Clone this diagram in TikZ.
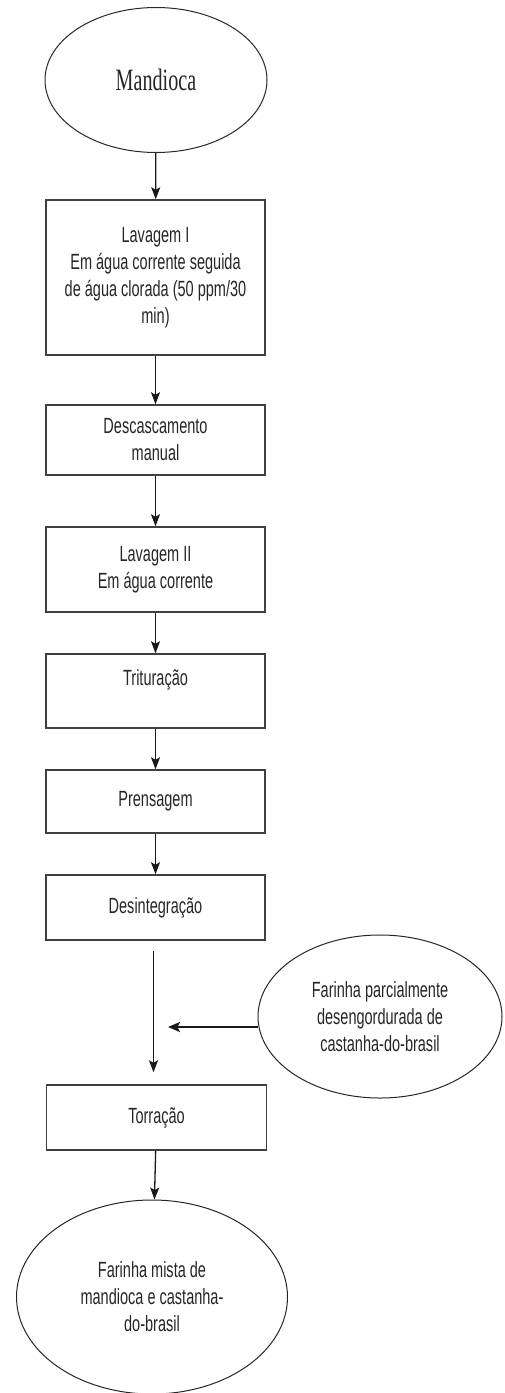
\documentclass[tikz,border=0pt]{standalone}
\usepackage{fontspec}
\setmainfont[FakeStretch=0.66]{Liberation Sans}
\newfontfamily\mserif[FakeStretch=0.65]{Liberation Serif}
\usetikzlibrary{shapes.geometric,arrows.meta}
\begin{document}
\begin{tikzpicture}[x=1pt,y=-1pt,
  stepbox/.style={draw=black!75, line width=1.5pt, minimum width=219pt, inner sep=2pt, align=center, text=black!85, font=\fontsize{22}{27}\selectfont},
  oval/.style={ellipse, draw=black!85, line width=1pt, inner sep=0pt, align=center, text=black!85, font=\fontsize{22}{27}\selectfont},
  arr/.style={draw=black!90, line width=1.3pt, -{Stealth[length=12pt,width=9pt,inset=2.5pt]}},
  thickarr/.style={draw=black!90, line width=2.2pt, -{Stealth[length=12pt,width=10pt,inset=2.5pt]}}]
\useasboundingbox (0,0) rectangle (504,1393);
\node[oval, minimum width=222pt, minimum height=145pt, font=\mserif\fontsize{31}{36}\selectfont] (mand) at (156,80) {Mandioca};
\node[stepbox, minimum height=155pt] (lav1) at (155.5,277.5) {Lavagem I\\Em água corrente seguida\\de água clorada (50 ppm/30\\min)};
\node[stepbox, minimum height=70pt] (desc) at (155.5,440) {Descascamento\\manual};
\node[stepbox, minimum height=85pt] (lav2) at (155.5,569.5) {Lavagem II\\Em água corrente};
\node[stepbox, minimum height=74pt, text height=16pt, text depth=28pt] (trit) at (155.5,691) {Trituração};
\node[stepbox, minimum height=63pt] (prens) at (155.5,801.5) {Prensagem};
\node[stepbox, minimum height=65pt] (desint) at (155.5,907.5) {Desintegração};
\node[oval, minimum width=244pt, minimum height=163pt] (side) at (380,1016.5) {Farinha parcialmente\\desengordurada de\\castanha-do-brasil};
\node[stepbox, minimum width=220pt, minimum height=65pt] (torr) at (156.5,1117.5) {Torração};
\node[oval, minimum width=271pt, minimum height=194pt] (final) at (152,1297) {Farinha mista de\\mandioca e castanha-\\do-brasil};
\coordinate (m) at (168,1027);
\draw[arr] (mand) -- (lav1);
\draw[arr] (lav1) -- (desc);
\draw[arr] (desc) -- (lav2);
\draw[arr] (lav2) -- (trit);
\draw[arr] (trit) -- (prens);
\draw[arr] (prens) -- (desint);
\draw[arr, shorten <=10pt, shorten >=12pt] ([xshift=-2pt]desint.south) -- ([xshift=-3pt]torr.north);
\draw[thickarr] (side.west |- m) -- (m);
\draw[arr] (torr) -- (final);
\end{tikzpicture}
\end{document}
